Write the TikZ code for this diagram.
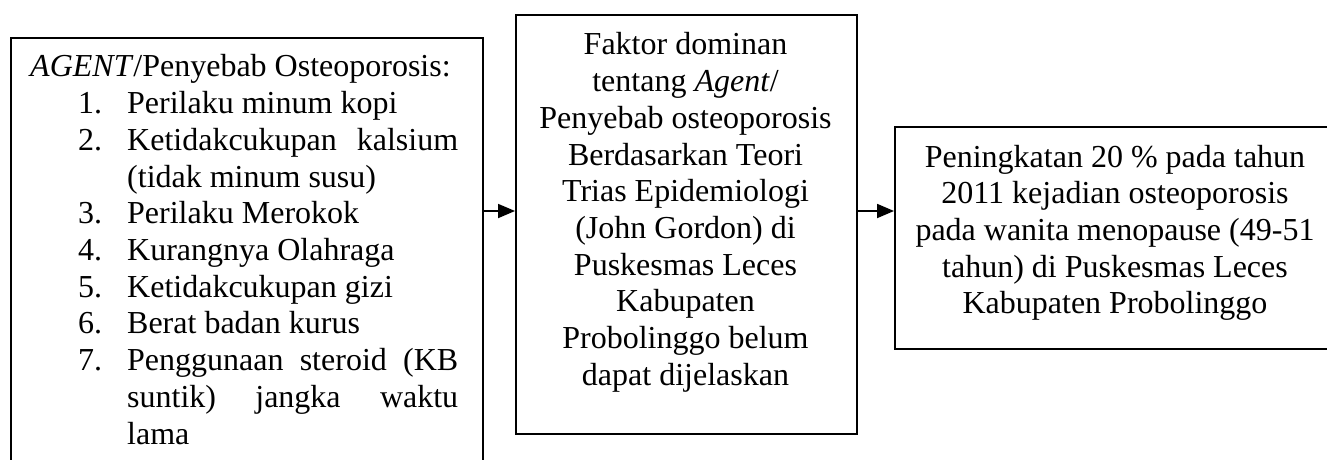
\documentclass[tikz,border=0pt]{standalone}
\usepackage{fontspec}
\setmainfont{Liberation Serif}
\usetikzlibrary{arrows.meta}
% numbered line of the cause list, and a continuation line under it
\newcommand\causeitem[2]{\hspace*{48pt}\makebox[49pt][l]{#1}#2\par}
\newcommand\causecont[1]{\hspace*{97pt}#1\par}
\begin{document}
\begin{tikzpicture}[x=1pt,y=-1pt,
  box/.style={draw, line width=1.8pt, inner sep=0pt, anchor=north west},
  txt/.style={inner sep=0pt, font=\fontsize{32}{36.7}\selectfont},
  flow/.style={-{Triangle[length=17pt,width=14pt]}, line width=1.8pt}]
\useasboundingbox (0,0) rectangle (1327,460);
\clip (0,0) rectangle (1327,460);

% boxes
\node[box, minimum width=472pt, minimum height=445pt] (agent) at (10,37) {};
\node[box, minimum width=341pt, minimum height=419pt] (faktor) at (515,14) {};
\node[box, minimum width=442pt, minimum height=222pt] (hasil) at (894,126) {};

% box texts
\node[txt, anchor=base west] (agenttxt) at (30,77) {\parbox[t]{440pt}{%
  \emph{AGENT}/Penyebab Osteoporosis:\par
  \causeitem{1.}{Perilaku minum kopi}
  \causeitem{2.}{\makebox[331pt][s]{Ketidakcukupan kalsium}}
  \causecont{(tidak minum susu)}
  \causeitem{3.}{Perilaku Merokok}
  \causeitem{4.}{Kurangnya Olahraga}
  \causeitem{5.}{Ketidakcukupan gizi}
  \causeitem{6.}{Berat badan kurus}
  \causeitem{7.}{\makebox[331pt][s]{Penggunaan steroid (KB}}
  \causecont{\makebox[331pt][s]{suntik) jangka waktu}}
  \causecont{lama}}};

\node[txt, anchor=base] (faktortxt) at (685.5,55) {\parbox[t]{330pt}{\centering
  Faktor dominan\\
  tentang \emph{Agent}/\\
  Penyebab osteoporosis\\
  Berdasarkan Teori\\
  Trias Epidemiologi\\
  (John Gordon) di\\
  Puskesmas Leces\\
  Kabupaten\\
  Probolinggo belum\\
  dapat dijelaskan}};

\node[txt, anchor=base] (hasiltxt) at (1115,167) {\parbox[t]{430pt}{\centering
  Peningkatan 20 \% pada tahun\\
  2011 kejadian osteoporosis\\
  pada wanita menopause (49-51\\
  tahun) di Puskesmas Leces\\
  Kabupaten Probolinggo}};

% connectors
\coordinate (flowline) at (0,211);
\draw[flow] (agent.east |- flowline) -- (faktor.west |- flowline);
\draw[flow] (faktor.east |- flowline) -- (hasil.west |- flowline);
\end{tikzpicture}
\end{document}
